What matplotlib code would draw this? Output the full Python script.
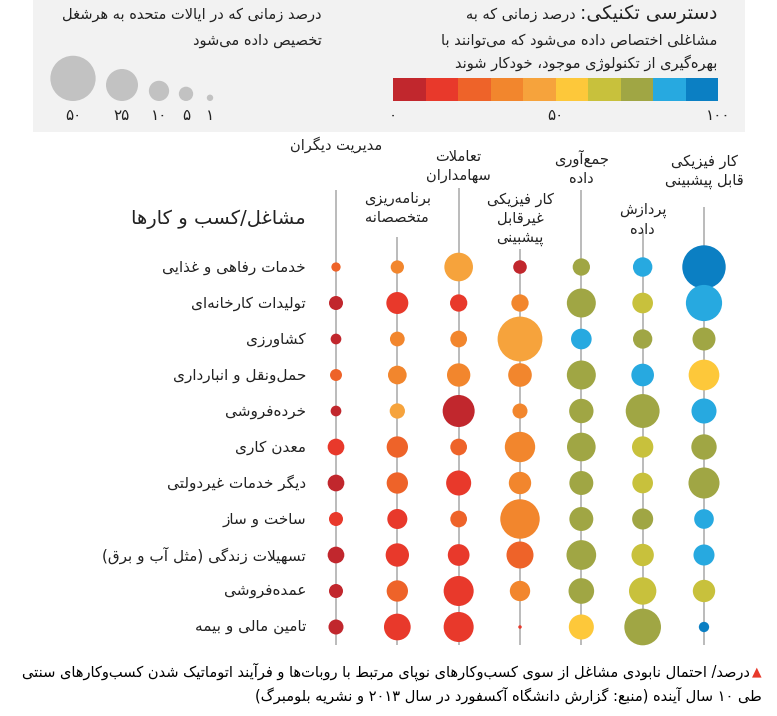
import re
import matplotlib
matplotlib.use('Agg')
import matplotlib.pyplot as plt
import matplotlib.cm as cm
from matplotlib.colors import ListedColormap, BoundaryNorm
from matplotlib.patches import Rectangle
import numpy as np

plt.rcParams['font.family'] = ['DejaVu Sans']

# ---------------- data ----------------
occupations = ['خدمات رفاهی و غذایی', 'تولیدات کارخانه‌ای', 'کشاورزی',
               'حمل‌ونقل و انبارداری', 'خرده‌فروشی', 'معدن کاری',
               'دیگر خدمات غیردولتی', 'ساخت و ساز',
               'تسهیلات زندگی (مثل آب و برق)', 'عمده‌فروشی', 'تامین مالی و بیمه']
activities = ['مدیریت دیگران', 'برنامه‌ریزی\nمتخصصانه', 'تعاملات\nسهامداران',
              'کار فیزیکی\nغیرقابل\nپیشبینی', 'جمع‌آوری\nداده', 'پردازش\nداده',
              'کار فیزیکی\nقابل پیشبینی']

# percent of working time spent on each activity (bubble size)
time_share = [
    [2.1, 4.3, 20, 4.5, 7.3, 9.2, 46],
    [4.8, 11.8, 7.3, 7.3, 20.5, 10.4, 32],
    [2.8, 5.3, 6.8, 49, 10.4, 9.1, 12.9],
    [3.5, 8.5, 13.3, 13.6, 20.5, 12.5, 23],
    [2.8, 5.7, 25, 5.5, 14.5, 28, 15.3],
    [6.8, 11.1, 6.8, 22.5, 20, 11.1, 15.7],
    [6.8, 11.1, 15.3, 12.2, 14, 10.4, 23.5],
    [4.8, 9.8, 6.8, 38, 14, 10.8, 9.4],
    [6.8, 13.3, 11.5, 17.8, 21.5, 12.2, 10.8],
    [4.8, 11.1, 22, 10.1, 16, 18.3, 12.2],
    [5.5, 17.4, 22, 0.3, 15.3, 32.8, 2.6],
]
# percent of that time that could be automated (bubble colour)
automation = [
    [25, 35, 44, 9, 73, 86, 94],
    [8, 18, 17, 33, 75, 64, 87],
    [7, 34, 34, 44, 82, 73, 75],
    [26, 33, 36, 35, 74, 85, 56],
    [6, 43, 8, 32, 72, 74, 84],
    [15, 27, 26, 36, 73, 65, 72],
    [9, 25, 18, 34, 72, 63, 76],
    [16, 15, 27, 35, 74, 71, 83],
    [8, 16, 17, 25, 73, 64, 85],
    [7, 26, 19, 33, 74, 66, 62],
    [8, 17, 18, 14, 55, 72, 93],
]
legend_sizes = [50, 25, 10, 5, 1]
legend_labels = ['۵۰', '۲۵', '۱۰', '۵', '۱']
scale_ticks = [0, 50, 100]
scale_labels = ['۰', '۵۰', '۱۰۰']

palette = ['#c1272d', '#e8392b', '#ee6329', '#f2862d', '#f6a33c',
           '#fdc83a', '#c8c13c', '#a0a644', '#27a9e0', '#0b7fc3']

# ---------------- persian shaping (no bidi lib available) ----------------
FORMS = {
    'ا': ('\uFE8D', '\uFE8E'), 'آ': ('\uFE81', '\uFE82'),
    'ب': ('\uFE8F', '\uFE90', '\uFE91', '\uFE92'),
    'پ': ('\uFB56', '\uFB57', '\uFB58', '\uFB59'),
    'ت': ('\uFE95', '\uFE96', '\uFE97', '\uFE98'),
    'ث': ('\uFE99', '\uFE9A', '\uFE9B', '\uFE9C'),
    'ج': ('\uFE9D', '\uFE9E', '\uFE9F', '\uFEA0'),
    'چ': ('\uFB7A', '\uFB7B', '\uFB7C', '\uFB7D'),
    'ح': ('\uFEA1', '\uFEA2', '\uFEA3', '\uFEA4'),
    'خ': ('\uFEA5', '\uFEA6', '\uFEA7', '\uFEA8'),
    'د': ('\uFEA9', '\uFEAA'), 'ذ': ('\uFEAB', '\uFEAC'),
    'ر': ('\uFEAD', '\uFEAE'), 'ز': ('\uFEAF', '\uFEB0'),
    'ژ': ('\uFB8A', '\uFB8B'),
    'س': ('\uFEB1', '\uFEB2', '\uFEB3', '\uFEB4'),
    'ش': ('\uFEB5', '\uFEB6', '\uFEB7', '\uFEB8'),
    'ص': ('\uFEB9', '\uFEBA', '\uFEBB', '\uFEBC'),
    'ض': ('\uFEBD', '\uFEBE', '\uFEBF', '\uFEC0'),
    'ط': ('\uFEC1', '\uFEC2', '\uFEC3', '\uFEC4'),
    'ظ': ('\uFEC5', '\uFEC6', '\uFEC7', '\uFEC8'),
    'ع': ('\uFEC9', '\uFECA', '\uFECB', '\uFECC'),
    'غ': ('\uFECD', '\uFECE', '\uFECF', '\uFED0'),
    'ف': ('\uFED1', '\uFED2', '\uFED3', '\uFED4'),
    'ق': ('\uFED5', '\uFED6', '\uFED7', '\uFED8'),
    'ک': ('\uFB8E', '\uFB8F', '\uFB90', '\uFB91'),
    'گ': ('\uFB92', '\uFB93', '\uFB94', '\uFB95'),
    'ل': ('\uFEDD', '\uFEDE', '\uFEDF', '\uFEE0'),
    'م': ('\uFEE1', '\uFEE2', '\uFEE3', '\uFEE4'),
    'ن': ('\uFEE5', '\uFEE6', '\uFEE7', '\uFEE8'),
    'ه': ('\uFEE9', '\uFEEA', '\uFEEB', '\uFEEC'),
    'و': ('\uFEED', '\uFEEE'),
    'ی': ('\uFBFC', '\uFBFD', '\uFBFE', '\uFBFF'),
}
LAMALEF = {'ا': ('\uFEFB', '\uFEFC'), 'آ': ('\uFEF5', '\uFEF6')}


def dual(c):
    return c in FORMS and len(FORMS[c]) == 4


def fa_line(text):
    text = text.replace('ي', 'ی').replace('ك', 'ک')
    res = []
    i, n = 0, len(text)
    while i < n:
        c = text[i]
        if c not in FORMS:
            res.append(c)
            i += 1
            continue
        link_prev = i > 0 and dual(text[i - 1])
        if c == 'ل' and i + 1 < n and text[i + 1] in LAMALEF:
            iso, fin = LAMALEF[text[i + 1]]
            res.append(fin if link_prev else iso)
            i += 2
            continue
        link_next = dual(c) and i + 1 < n and text[i + 1] in FORMS
        f = FORMS[c]
        if link_prev and link_next:
            res.append(f[3])
        elif link_prev:
            res.append(f[1])
        elif link_next:
            res.append(f[2])
        else:
            res.append(f[0])
        i += 1
    s = ''.join(res).replace('\u200c', '')
    runs = re.findall(r'[0-9\u06F0-\u06F9]+|[^0-9\u06F0-\u06F9]', s)
    runs.reverse()
    return ''.join(runs).translate(str.maketrans('()', ')('))


def fa(text):
    return '\n'.join(fa_line(t) for t in text.split('\n'))


# ---------------- figure ----------------
DPI = 100
W, H = 777, 716
fig = plt.figure(figsize=(W / DPI, H / DPI), dpi=DPI)


def area(v):
    # radius of 3.2*sqrt(v) pixels, as marker area in pt^2
    return (2 * 3.2 * np.sqrt(np.asarray(v, dtype=float)) * 72 / DPI) ** 2


cmap = ListedColormap(palette)
norm = BoundaryNorm(np.linspace(0, 100, 11), cmap.N)

# background axes in pixel coordinates for legend box and texts
bg = fig.add_axes([0, 0, 1, 1])
bg.set_xlim(0, W)
bg.set_ylim(H, 0)
bg.axis('off')
bg.add_patch(Rectangle((33, 0), 712, 132, facecolor='#f2f2f2', edgecolor='none'))

# size legend
lx = [73, 122, 159, 186, 210]
lr = 3.2 * np.sqrt(legend_sizes)
bg.scatter(lx, 101 - lr, s=area(legend_sizes), color='#c2c2c2', linewidths=0)
for x, lab in zip(lx, legend_labels):
    bg.text(x, 116, lab, ha='center', va='center', fontsize=11, color='#222222')
bg.text(322, 14, fa('درصد زمانی که در ایالات متحده به هرشغل'), ha='right', va='center',
        fontsize=10.5, color='#222222')
bg.text(322, 41, fa('تخصیص داده می‌شود'), ha='right', va='center', fontsize=10.5,
        color='#222222')

# colour legend
renderer = fig.canvas.get_renderer()
t1 = bg.text(717, 19, fa('دسترسی تکنیکی:'), ha='right', va='baseline', fontsize=13.5,
             color='#222222')
w1 = t1.get_window_extent(renderer).width
bg.text(717 - w1 - 4, 19, fa('درصد زمانی که به'), ha='right', va='baseline', fontsize=10.5,
        color='#222222')
bg.text(717, 40, fa('مشاغلی اختصاص داده می‌شود که می‌توانند با'), ha='right', va='center',
        fontsize=10.5, color='#222222')
bg.text(717, 63, fa('بهره‌گیری از تکنولوژی موجود، خودکار شوند'), ha='right', va='center',
        fontsize=10.5, color='#222222')

cax = fig.add_axes([393 / W, 1 - 101 / H, 325 / W, 23 / H])
cb = fig.colorbar(cm.ScalarMappable(norm=norm, cmap=cmap), cax=cax, orientation='horizontal')
cb.outline.set_visible(False)
cax.minorticks_off()
cb.set_ticks(scale_ticks)
cb.set_ticklabels(scale_labels)
cax.tick_params(which='both', length=0, pad=5, labelsize=11, labelcolor='#222222')

# footnote
tri = bg.text(762, 672, '▲', ha='right', va='center', fontsize=9, color='#e8392b')
wt = tri.get_window_extent(renderer).width
bg.text(762 - wt - 2, 672, fa('درصد/ احتمال نابودی مشاغل از سوی کسب‌وکارهای نوپای مرتبط با روبات‌ها و فرآیند اتوماتیک شدن کسب‌وکارهای سنتی'),
        ha='right', va='center', fontsize=10.5, color='#000000')
bg.text(762, 695, fa('طی ۱۰ سال آینده (منبع: گزارش دانشگاه آکسفورد در سال ۲۰۱۳ و نشریه بلومبرگ)'),
        ha='right', va='center', fontsize=10.5, color='#000000')

# ---------------- main bubble grid ----------------
ax = fig.add_axes([305.33 / W, 1 - 650 / H, 429.33 / W, 520 / H])
ax.set_xlim(-0.5, 6.5)
ax.set_ylim(10.639, -3.806)
ax.axis('off')
ax.patch.set_alpha(0)

cols = np.arange(len(activities))
rows = np.arange(len(occupations))
line_top = [-2.14, -0.83, -2.19, -0.5, -2.14, -0.97, -1.67]
label_y = [-3.39, -1.64, -2.81, -1.33, -2.76, -1.31, -2.65]
ax.vlines(cols, line_top, 10.5, color='#a8a8a8', lw=1.1, zorder=1)
for c, name in enumerate(activities):
    ax.text(c, label_y[c], fa(name), ha='center', va='center', fontsize=10.5,
            linespacing=1.3, color='#222222')

xx, yy = np.meshgrid(cols, rows)
ax.scatter(xx.ravel(), yy.ravel(), s=area(np.ravel(time_share)),
           c=np.ravel(automation), cmap=cmap, norm=norm, linewidths=0, zorder=3,
           clip_on=False)

for r, name in enumerate(occupations):
    ax.text(-0.49, r, fa(name), ha='right', va='center', fontsize=11, color='#222222')
ax.text(-0.49, -1.33, fa('مشاغل/کسب و کارها'), ha='right', va='center', fontsize=14,
        color='#222222')

fig.savefig('out.png', dpi=DPI)
